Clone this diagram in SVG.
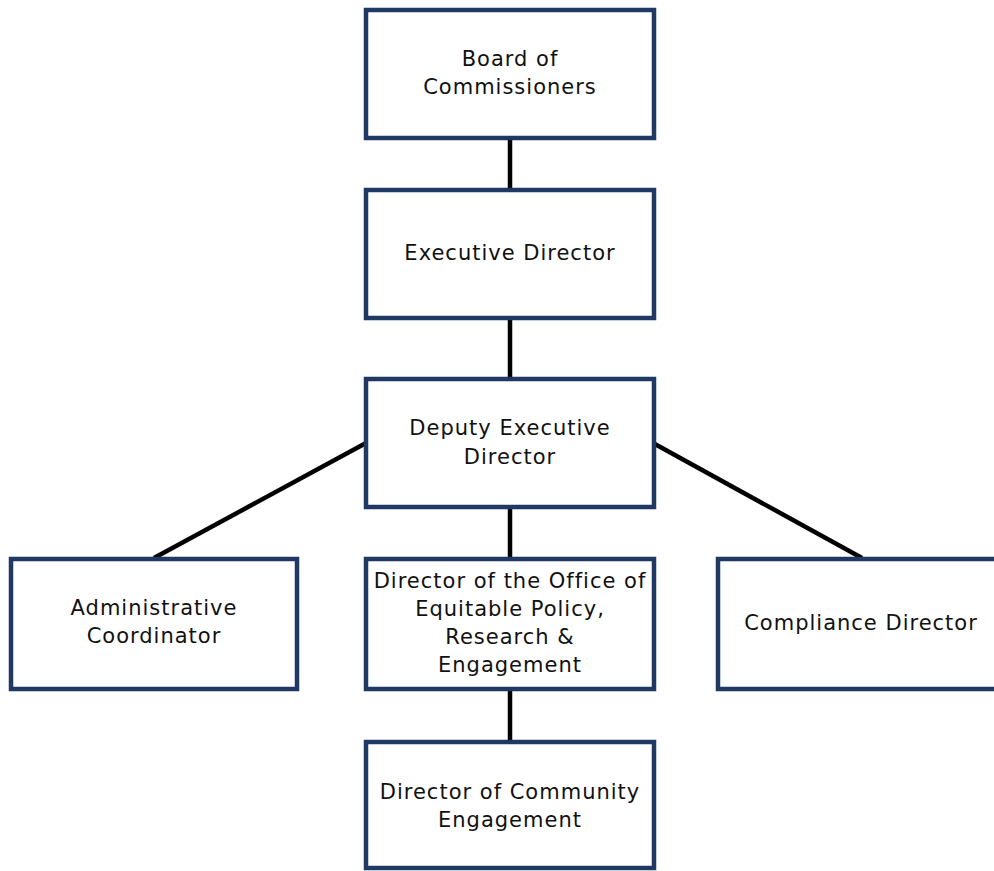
<svg xmlns="http://www.w3.org/2000/svg" width="994" height="871" viewBox="0 0 994 871">
<style>
.box{fill:#ffffff;stroke:#1f3864;stroke-width:4.5}
.lbl{font-family:"DejaVu Sans",Verdana,sans-serif;font-size:21px;letter-spacing:1px;fill:#111111;text-anchor:middle}
.con{stroke:#000000;stroke-width:4.5;fill:none}
</style>
<rect width="994" height="871" fill="#ffffff"/>
<g id="connectors">
<line class="con" x1="510" y1="138" x2="510" y2="189"/>
<line class="con" x1="510" y1="318" x2="510" y2="378"/>
<line class="con" x1="510" y1="507" x2="510" y2="558"/>
<line class="con" x1="510" y1="689" x2="510" y2="741"/>
<line class="con" x1="366" y1="443" x2="154" y2="558"/>
<line class="con" x1="653" y1="443" x2="862" y2="558"/>
</g>
<g id="board">
<rect class="box" x="366" y="10" width="288" height="128"/>
<text class="lbl" x="510" y="66">Board of</text>
<text class="lbl" x="510" y="94">Commissioners</text>
</g>
<g id="executive">
<rect class="box" x="366" y="190" width="288" height="128"/>
<text class="lbl" x="510" y="260">Executive Director</text>
</g>
<g id="deputy">
<rect class="box" x="366" y="379" width="288" height="128"/>
<text class="lbl" x="510" y="435">Deputy Executive</text>
<text class="lbl" x="510" y="464">Director</text>
</g>
<g id="admin">
<rect class="box" x="11" y="559" width="286" height="130"/>
<text class="lbl" x="154" y="615">Administrative</text>
<text class="lbl" x="154" y="643">Coordinator</text>
</g>
<g id="equitable">
<rect class="box" x="366" y="559" width="288" height="130"/>
<text class="lbl" x="510" y="588">Director of the Office of</text>
<text class="lbl" x="510" y="616">Equitable Policy,</text>
<text class="lbl" x="510" y="644">Research &amp;</text>
<text class="lbl" x="510" y="672">Engagement</text>
</g>
<g id="compliance">
<rect class="box" x="718" y="559" width="290" height="130"/>
<text class="lbl" x="861" y="630">Compliance Director</text>
</g>
<g id="community">
<rect class="box" x="366" y="742" width="288" height="126"/>
<text class="lbl" x="510" y="799">Director of Community</text>
<text class="lbl" x="510" y="827">Engagement</text>
</g>
</svg>
